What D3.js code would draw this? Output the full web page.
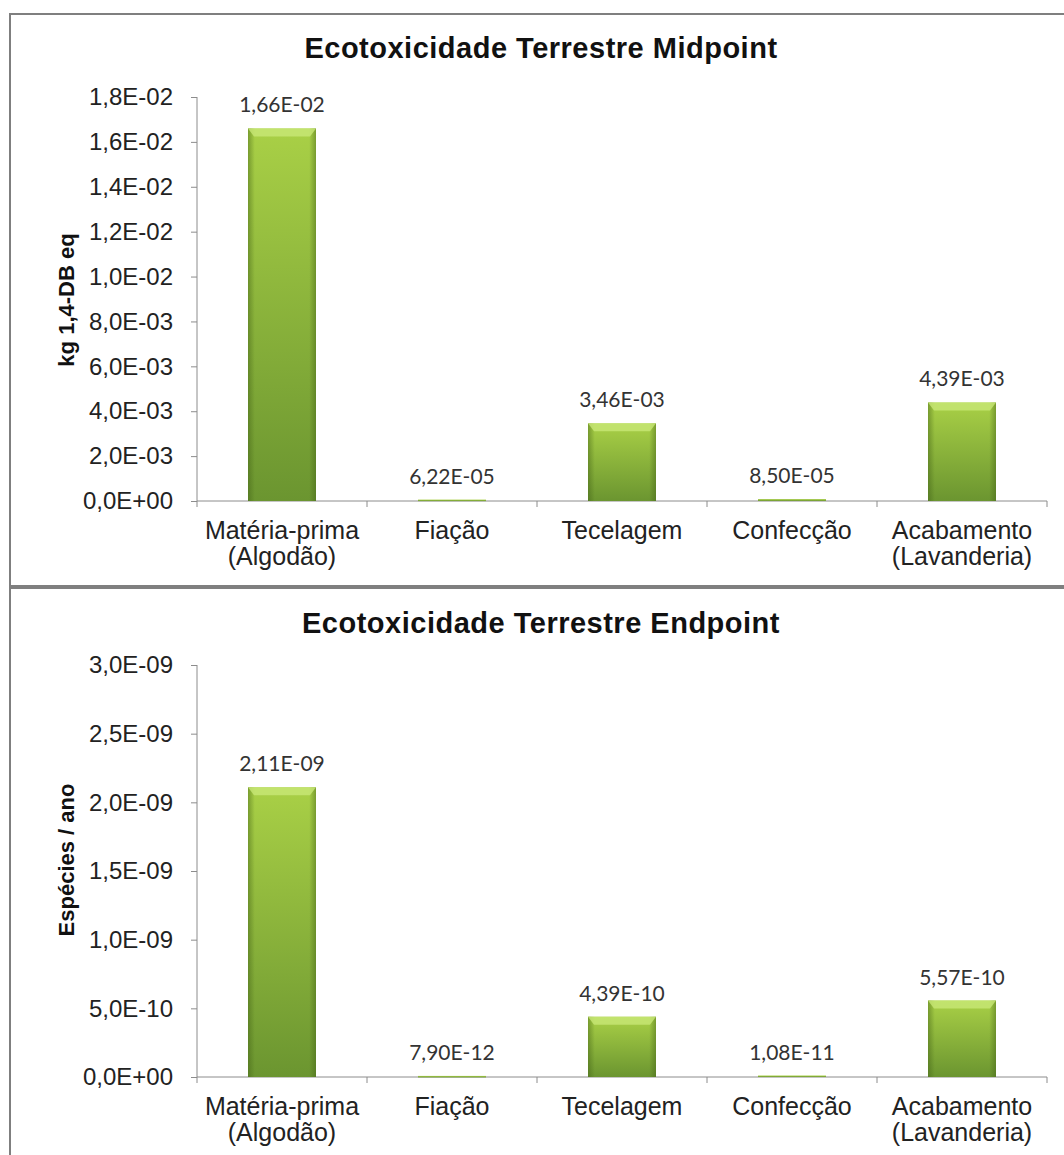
<!DOCTYPE html>
<html>
<head>
<meta charset="utf-8">
<script src="https://cdn.jsdelivr.net/npm/d3@7/dist/d3.min.js"></script>
<style>
  body { margin: 0; background: #fff; }
</style>
</head>
<body>
<svg id="chart" width="1064" height="1155"></svg>
<script>
// Data
var categories = ["Matéria-prima (Algodão)", "Fiação", "Tecelagem", "Confecção", "Acabamento (Lavanderia)"];
var categoryLines = [["Matéria-prima", "(Algodão)"], ["Fiação"], ["Tecelagem"], ["Confecção"], ["Acabamento", "(Lavanderia)"]];
var midpointValues = [1.66e-2, 6.22e-5, 3.46e-3, 8.50e-5, 4.39e-3];
var endpointValues = [2.11e-9, 7.90e-12, 4.39e-10, 1.08e-11, 5.57e-10];
var midpointTicks = [0, 0.002, 0.004, 0.006, 0.008, 0.010, 0.012, 0.014, 0.016, 0.018];
var endpointTicks = [0, 0.5e-9, 1.0e-9, 1.5e-9, 2.0e-9, 2.5e-9, 3.0e-9];

var svg = d3.select("#chart");

// Excel-like number format: 1,66E-02
function sci(v, digits) {
  var parts = v.toExponential(digits).split("e");
  var exp = parseInt(parts[1], 10);
  var e = Math.abs(exp);
  return parts[0].replace(".", ",") + "E" + (exp < 0 ? "-" : "+") + (e < 10 ? "0" + e : e);
}

// gradients for the bevelled bars
var defs = svg.append("defs");
var gv = defs.append("linearGradient").attr("id", "barFill")
  .attr("x1", 0).attr("y1", 0).attr("x2", 0).attr("y2", 1);
gv.append("stop").attr("offset", "0%").attr("stop-color", "#a9d046");
gv.append("stop").attr("offset", "100%").attr("stop-color", "#6b9530");
var gh = defs.append("linearGradient").attr("id", "barEdge")
  .attr("x1", 0).attr("y1", 0).attr("x2", 1).attr("y2", 0);
gh.append("stop").attr("offset", "0%").attr("stop-color", "#3f5e14").attr("stop-opacity", 0.45);
gh.append("stop").attr("offset", "10%").attr("stop-color", "#3f5e14").attr("stop-opacity", 0);
gh.append("stop").attr("offset", "90%").attr("stop-color", "#3f5e14").attr("stop-opacity", 0);
gh.append("stop").attr("offset", "100%").attr("stop-color", "#3f5e14").attr("stop-opacity", 0.45);

// panel frames
svg.append("rect").attr("x", 10).attr("y", 14).attr("width", 1070).attr("height", 572)
  .attr("fill", "none").attr("stroke", "#7f7f7f").attr("stroke-width", 2);
svg.append("rect").attr("x", 10).attr("y", 588).attr("width", 1070).attr("height", 600)
  .attr("fill", "none").attr("stroke", "#7f7f7f").attr("stroke-width", 2);

function drawPanel(cfg) {
  var x = d3.scaleBand().domain(categories).range([197, 1047]).padding(0);
  var y = d3.scaleLinear().domain(cfg.domain).range([cfg.bottom, cfg.top]);
  var g = svg.append("g");

  // title
  g.append("text")
    .attr("x", 541).attr("y", cfg.titleY)
    .attr("text-anchor", "middle")
    .style("font-family", "'Liberation Sans', Arial, sans-serif")
    .style("font-weight", "bold").style("font-size", "29px")
    .style("letter-spacing", "0.5px")
    .style("fill", "#111")
    .text(cfg.title);

  // y axis
  var yAxis = g.append("g")
    .attr("transform", "translate(197,0)")
    .call(d3.axisLeft(y).tickValues(cfg.ticks).tickSize(6).tickPadding(18)
      .tickFormat(function(d) { return sci(d, 1); }));
  yAxis.select(".domain").attr("stroke", "#8c8c8c").attr("d", "M0," + cfg.bottom + "V" + cfg.top);
  yAxis.selectAll(".tick line").attr("stroke", "#8c8c8c");
  yAxis.selectAll("text")
    .style("font-family", "'Liberation Sans', Arial, sans-serif")
    .style("font-size", "24px").style("fill", "#222");

  // x axis (ticks at category boundaries)
  var xAxis = g.append("g").attr("transform", "translate(0," + cfg.bottom + ")");
  xAxis.append("line").attr("x1", 197).attr("x2", 1047).attr("y1", 0).attr("y2", 0)
    .attr("stroke", "#8c8c8c");
  xAxis.selectAll("line.tk").data(categories.concat([null])).enter().append("line")
    .attr("class", "tk")
    .attr("x1", function(d) { return d === null ? 1047 : x(d); })
    .attr("x2", function(d) { return d === null ? 1047 : x(d); })
    .attr("y1", 0).attr("y2", 6).attr("stroke", "#8c8c8c");

  var labels = xAxis.selectAll("text.cat").data(categories).enter().append("text")
    .attr("class", "cat")
    .attr("text-anchor", "middle")
    .style("font-family", "'Liberation Sans', Arial, sans-serif")
    .style("font-size", "25px").style("fill", "#222");
  labels.each(function(d, i) {
    var t = d3.select(this);
    categoryLines[i].forEach(function(line, j) {
      t.append("tspan")
        .attr("x", x(d) + x.bandwidth() / 2)
        .attr("y", 38 + j * 26)
        .text(line);
    });
  });

  // bars
  var bw = x.bandwidth() * 0.4;
  function barX(i) { return x(categories[i]) + (x.bandwidth() - bw) / 2; }
  var bars = g.selectAll("g.bar").data(cfg.values).enter().append("g").attr("class", "bar");
  bars.append("rect")
    .attr("x", function(d, i) { return barX(i); })
    .attr("y", function(d) { return y(d); })
    .attr("width", bw)
    .attr("height", function(d) { return Math.max(1.5, y(0) - y(d)); })
    .attr("fill", "url(#barFill)");
  bars.each(function(d, i) {
    if (y(0) - y(d) < 12) return;
    var b = d3.select(this);
    var x0 = barX(i), x1 = x0 + bw, yt = y(d);
    b.append("rect")
      .attr("x", x0).attr("y", yt).attr("width", bw).attr("height", y(0) - yt)
      .attr("fill", "url(#barEdge)");
    b.append("path")
      .attr("d", "M" + x0 + "," + yt + "L" + x1 + "," + yt + "L" + (x1 - 6) + "," + (yt + 8) +
                 "L" + (x0 + 6) + "," + (yt + 8) + "Z")
      .attr("fill", "#c8e777").attr("opacity", 0.8);
  });

  // value labels
  g.selectAll("text.val").data(cfg.values).enter().append("text")
    .attr("class", "val")
    .attr("x", function(d, i) { return x(categories[i]) + x.bandwidth() / 2; })
    .attr("y", function(d) { return y(d) - 16; })
    .attr("text-anchor", "middle")
    .style("font-family", "Lato, 'Open Sans', sans-serif")
    .style("font-size", "21px").style("fill", "#333")
    .text(function(d) { return sci(d, 2); });

  // y axis title
  g.append("text")
    .attr("transform", "translate(74," + cfg.yTitleCenter + ") rotate(-90)")
    .attr("text-anchor", "middle")
    .style("font-family", "'Liberation Sans', Arial, sans-serif")
    .style("font-weight", "bold").style("font-size", "22px")
    .style("fill", "#111")
    .text(cfg.yTitle);
}

drawPanel({
  title: "Ecotoxicidade Terrestre Midpoint",
  titleY: 58,
  yTitle: "kg 1,4-DB eq",
  yTitleCenter: 300,
  values: midpointValues,
  ticks: midpointTicks,
  domain: [0, 0.018],
  top: 97,
  bottom: 501
});

drawPanel({
  title: "Ecotoxicidade Terrestre Endpoint",
  titleY: 633,
  yTitle: "Espécies / ano",
  yTitleCenter: 860,
  values: endpointValues,
  ticks: endpointTicks,
  domain: [0, 3.0e-9],
  top: 665,
  bottom: 1077
});
</script>
</body>
</html>
